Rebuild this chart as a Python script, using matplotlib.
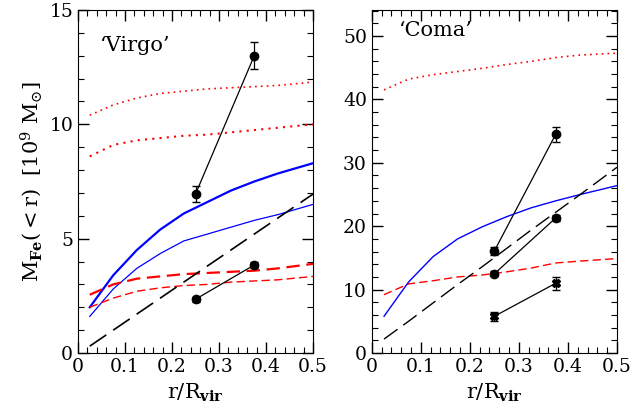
import numpy as np
import matplotlib
matplotlib.use("Agg")
import matplotlib.pyplot as plt
from matplotlib.ticker import MultipleLocator

plt.rcParams['font.family'] = 'DejaVu Serif'
plt.rcParams['mathtext.fontset'] = 'dejavuserif'

# radial bins (r/Rvir)
r = [0.025, 0.075, 0.125, 0.175, 0.225, 0.275, 0.325, 0.375, 0.425, 0.5]

# Virgo model curves
v_blue_thick = [2.0, 3.4, 4.5, 5.4, 6.1, 6.6, 7.1, 7.5, 7.85, 8.3]
v_blue_thin = [1.6, 2.8, 3.7, 4.35, 4.9, 5.2, 5.5, 5.8, 6.05, 6.5]
v_dot_hi = [10.4, 10.85, 11.15, 11.35, 11.45, 11.55, 11.6, 11.65, 11.7, 11.85]
v_dot_lo = [8.6, 9.1, 9.3, 9.4, 9.5, 9.55, 9.65, 9.75, 9.85, 10.0]
v_dash_thick = [2.55, 3.0, 3.25, 3.35, 3.45, 3.5, 3.55, 3.6, 3.7, 3.9]
v_dash_thin = [2.0, 2.4, 2.7, 2.85, 2.95, 3.0, 3.1, 3.15, 3.2, 3.35]
v_black = [0.3, 1.0, 1.7, 2.4, 3.1, 3.8, 4.5, 5.2, 5.9, 6.95]

# Coma model curves
c_dot = [41.5, 43.2, 43.9, 44.4, 44.9, 45.5, 46.0, 46.6, 47.0, 47.3]
c_blue = [5.8, 11.2, 15.2, 18.0, 19.9, 21.5, 22.9, 24.0, 25.0, 26.4]
c_dash = [9.2, 10.9, 11.4, 12.0, 12.3, 12.8, 13.4, 14.2, 14.5, 14.9]
c_black = [2.2, 5.0, 7.9, 10.8, 13.6, 16.5, 19.4, 22.2, 25.0, 29.3]

# observations
r_obs = [0.25, 0.375]
v_obs1, v_err1 = [6.95, 13.0], [0.35, 0.6]
v_obs2, v_err2 = [2.35, 3.85], [0.1, 0.15]
c_obs1, c_err1 = [16.1, 34.5], [0.6, 1.2]
c_obs2, c_err2 = [12.5, 21.3], [0.4, 0.5]
c_obs3, c_err3 = [5.8, 11.0], [0.7, 1.0]

fig = plt.figure(figsize=(6.41, 4.12), dpi=100)
ax1 = fig.add_axes([0.1217, 0.1432, 0.3666, 0.8325])
ax2 = fig.add_axes([0.580, 0.1432, 0.3826, 0.8325])


def style(ax, ymaj, ymin):
    ax.set_xlim(0, 0.5)
    ax.xaxis.set_major_locator(MultipleLocator(0.1))
    ax.xaxis.set_minor_locator(MultipleLocator(0.02))
    ax.yaxis.set_major_locator(MultipleLocator(ymaj))
    ax.yaxis.set_minor_locator(MultipleLocator(ymin))
    ax.tick_params(which='both', direction='in', top=True, right=True, labelsize=13.5)
    ax.tick_params(which='major', length=8, width=1)
    ax.tick_params(which='minor', length=4, width=0.8)
    ax.set_xticks([0, 0.1, 0.2, 0.3, 0.4, 0.5])
    ax.set_xticklabels(['0', '0.1', '0.2', '0.3', '0.4', '0.5'])
    ax.set_xlabel(r'$\mathrm{r/R_{\mathbf{vir}}}$', fontsize=15)


# Virgo
ax1.plot(r, v_dot_hi, color='red', ls=(0, (1, 2.5)), lw=1.2)
ax1.plot(r, v_dot_lo, color='red', ls=(0, (1, 2.5)), lw=1.5)
ax1.plot(r, v_blue_thick, color='blue', lw=1.6)
ax1.plot(r, v_blue_thin, color='blue', lw=0.9)
ax1.plot(r, v_dash_thick, color='red', ls=(0, (6, 3)), lw=1.6)
ax1.plot(r, v_dash_thin, color='red', ls=(0, (6, 3)), lw=1.0)
ax1.plot(r, v_black, color='black', ls=(0, (12, 5)), lw=1.2)
ax1.errorbar(r_obs, v_obs1, yerr=v_err1, fmt='o', color='black', ms=6,
             ls='-', lw=0.9, capsize=3)
ax1.errorbar(r_obs, v_obs2, yerr=v_err2, fmt='o', color='black', ms=6,
             ls='-', lw=0.9, capsize=3)
ax1.set_ylim(0, 15)
style(ax1, 5, 1)
ax1.set_ylabel(r'$\mathrm{M_{\mathbf{Fe}}({<}r)\ \ [10^9\ M_{\odot}]}$', fontsize=15)
ax1.text(0.047, 13.45, '\u2018Virgo\u2019', fontsize=15, va='center')

# Coma
ax2.plot(r, c_dot, color='red', ls=(0, (1, 2.5)), lw=1.2)
ax2.plot(r, c_blue, color='blue', lw=1.0)
ax2.plot(r, c_dash, color='red', ls=(0, (6, 3)), lw=1.0)
ax2.plot(r, c_black, color='black', ls=(0, (12, 5)), lw=1.0)
ax2.errorbar(r_obs, c_obs1, yerr=c_err1, fmt='o', color='black', ms=6,
             ls='-', lw=0.9, capsize=3)
ax2.errorbar(r_obs, c_obs2, yerr=c_err2, fmt='o', color='black', ms=6,
             ls='-', lw=0.9, capsize=3)
ax2.errorbar(r_obs, c_obs3, yerr=c_err3, fmt='X', color='black', ms=6,
             ls='-', lw=0.9, capsize=3)
ax2.set_ylim(0, 54.1)
style(ax2, 10, 2)
ax2.text(0.055, 50.8, '\u2018Coma\u2019', fontsize=15, va='center')

fig.savefig('out.png', dpi=100)
